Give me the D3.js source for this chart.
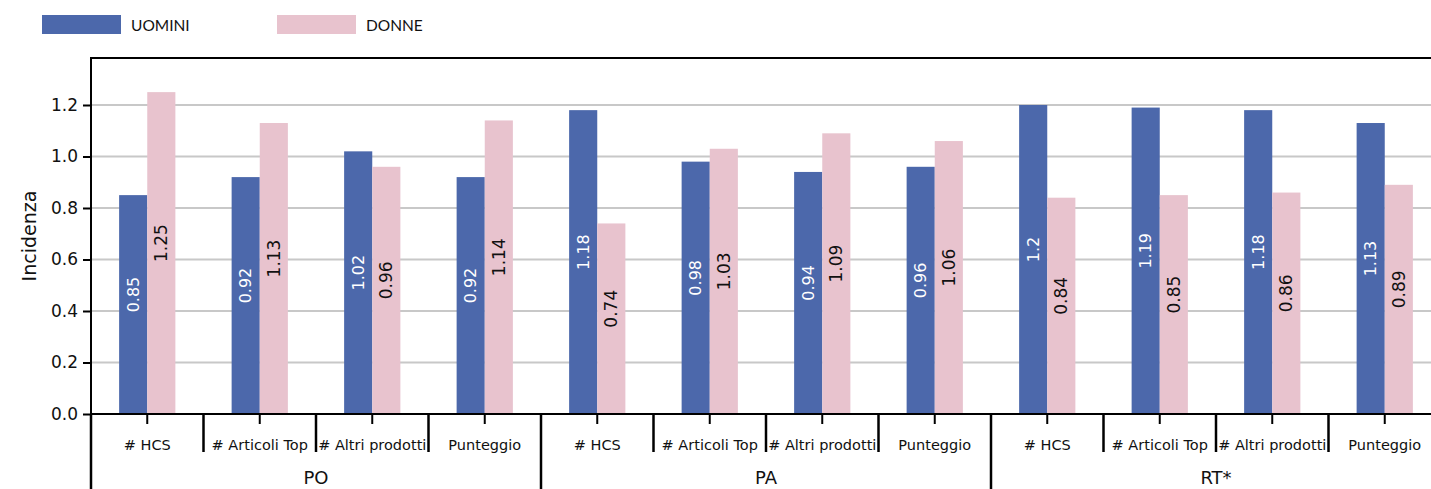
<!DOCTYPE html>
<html><head><meta charset="utf-8">
<script src="https://cdn.jsdelivr.net/npm/d3@7"></script>
<style>body{margin:0;background:#fff}svg{display:block}</style>
</head><body>
<svg id="chart" width="1431" height="489"></svg>
<script>
const groups = ["PO", "PA", "RT*"];
const metrics = ["# HCS", "# Articoli Top", "# Altri prodotti", "Punteggio"];
const seriesNames = ["UOMINI", "DONNE"];
const uomini = [0.85, 0.92, 1.02, 0.92, 1.18, 0.98, 0.94, 0.96, 1.2, 1.19, 1.18, 1.13];
const donne  = [1.25, 1.13, 0.96, 1.14, 0.74, 1.03, 1.09, 1.06, 0.84, 0.85, 0.86, 0.89];
const yTicks = [0, 0.2, 0.4, 0.6, 0.8, 1.0, 1.2];
const yLabel = "Incidenza";

(function () {
const colors = ["#4c68ab", "#e8c3ce"];
const labelColors = ["#ffffff", "#111111"];
const font = "DejaVu Sans, sans-serif";

const svg = d3.select("#chart");
const mLeft = 91, mTop = 58, mBottom = 414;
const catW = 112.5;
const cats = [];
groups.forEach(g => metrics.forEach(m => cats.push(g + "|" + m)));

const x = d3.scaleBand().domain(cats).range([mLeft, mLeft + catW * cats.length]).padding(0);
const y = d3.scaleLinear().domain([0, 1.3825]).range([mBottom, mTop]);
const barW = catW * 0.25;

// gridlines
svg.append("g").selectAll("line").data(yTicks.filter(d => d > 0)).join("line")
  .attr("x1", mLeft).attr("x2", 1431).attr("y1", d => y(d)).attr("y2", d => y(d))
  .attr("stroke", "#c8c8c8").attr("stroke-width", 2);

// bars
const series = [uomini, donne];
series.forEach((vals, si) => {
  const g = svg.append("g");
  g.selectAll("rect").data(vals).join("rect")
    .attr("x", (d, i) => x(cats[i]) + catW / 2 - barW + si * barW)
    .attr("width", barW)
    .attr("y", d => y(d))
    .attr("height", d => y(0) - y(d))
    .attr("fill", colors[si]);
  g.selectAll("text").data(vals).join("text")
    .attr("transform", (d, i) => {
      const cx = x(cats[i]) + catW / 2 - barW / 2 + si * barW;
      const cy = (y(d) + y(0)) / 2 - 10;
      return `translate(${cx},${cy}) rotate(-90)`;
    })
    .attr("text-anchor", "middle").attr("dominant-baseline", "central")
    .attr("font-family", font).attr("font-size", si === 0 ? 16 : 17)
    .attr("fill", labelColors[si])
    .text(d => String(d));
});

// top border
svg.append("line").attr("x1", mLeft).attr("x2", 1431).attr("y1", mTop).attr("y2", mTop)
  .attr("stroke", "#000").attr("stroke-width", 2);

// y axis
const yAxis = svg.append("g").attr("transform", `translate(${mLeft},0)`)
  .call(d3.axisLeft(y).tickValues(yTicks).tickFormat(d3.format(".1f")).tickSize(8).tickPadding(5));
yAxis.select(".domain").remove();
yAxis.selectAll(".tick line").attr("stroke", "#000").attr("stroke-width", 2);
yAxis.selectAll(".tick text").attr("font-family", font).attr("font-size", 17).attr("fill", "#111");
svg.append("line").attr("x1", mLeft).attr("x2", mLeft).attr("y1", mTop - 1).attr("y2", 489)
  .attr("stroke", "#000").attr("stroke-width", 2);

// x axis baseline
svg.append("line").attr("x1", mLeft).attr("x2", 1431).attr("y1", mBottom).attr("y2", mBottom)
  .attr("stroke", "#000").attr("stroke-width", 2);

// category center ticks and labels
const xAxis = svg.append("g").attr("transform", `translate(0,${mBottom})`)
  .call(d3.axisBottom(x).tickSize(10).tickPadding(16).tickFormat(d => d.split("|")[1]));
xAxis.select(".domain").remove();
xAxis.selectAll(".tick line").attr("stroke", "#000").attr("stroke-width", 2);
xAxis.selectAll(".tick text").attr("font-family", font).attr("font-size", 14.5).attr("fill", "#111");

// category separators
svg.append("g").selectAll("line").data(cats.map((c, i) => i)).join("line")
  .attr("x1", i => x(cats[i])).attr("x2", i => x(cats[i]))
  .attr("y1", mBottom).attr("y2", i => i % metrics.length === 0 ? 489 : 452)
  .attr("stroke", "#000").attr("stroke-width", 2.5);

// group labels
svg.append("g").selectAll("text").data(groups).join("text")
  .attr("x", g => x(g + "|" + metrics[0]) + catW * metrics.length / 2)
  .attr("y", 484).attr("text-anchor", "middle")
  .attr("font-family", font).attr("font-size", 18).attr("fill", "#111")
  .text(g => g);

// y label
svg.append("text").attr("transform", `translate(36,${(mTop + mBottom) / 2}) rotate(-90)`)
  .attr("text-anchor", "middle").attr("font-family", font).attr("font-size", 19).attr("fill", "#111")
  .text(yLabel);

// legend
const legX = [42, 277];
seriesNames.forEach((n, i) => {
  svg.append("rect").attr("x", legX[i]).attr("y", 15).attr("width", 79).attr("height", 19).attr("fill", colors[i]);
  svg.append("text").attr("x", legX[i] + 89).attr("y", 25).attr("dominant-baseline", "central")
    .attr("font-family", "Lato, sans-serif").attr("font-size", 15.5).attr("fill", "#111").text(n);
});
})();
</script>
</body></html>
